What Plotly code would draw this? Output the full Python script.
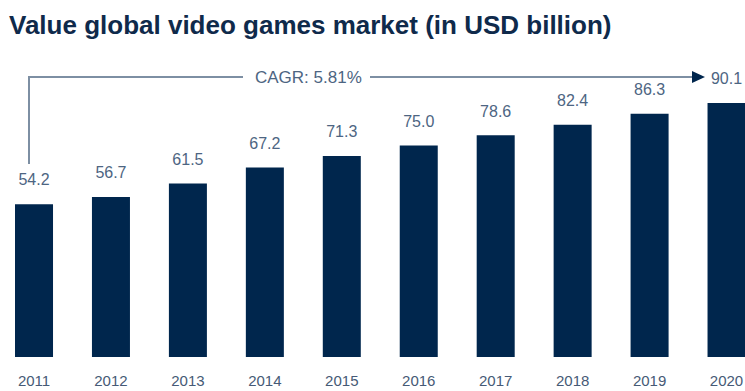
import plotly.graph_objects as go

# Market size per year (USD billion)
years = ["2011", "2012", "2013", "2014", "2015", "2016", "2017", "2018", "2019", "2020"]
values = [54.2, 56.7, 61.5, 67.2, 71.3, 75.0, 78.6, 82.4, 86.3, 90.1]
value_labels = [f"{v:.1f}" for v in values]
title_text = "Value global video games market (in USD billion)"
cagr_text = "CAGR: 5.81%"

W, H = 745, 391
M_BOTTOM = 34
PLOT_H = H - M_BOTTOM

NAVY = "#00264d"
LABEL = "#4d6582"
LINE = "#7d8fa3"
FONT = "Liberation Sans, Arial, sans-serif"


def py(pixel_y):
    """Convert a pixel row (from top of page) into paper y."""
    return (PLOT_H - pixel_y) / PLOT_H


def px(pixel_x):
    return pixel_x / W


fig = go.Figure()
fig.add_trace(
    go.Bar(
        x=years,
        y=values,
        marker=dict(color=NAVY, line=dict(width=0)),
        hoverinfo="skip",
    )
)

# value labels above bars (invisible markers push the text up)
fig.add_trace(
    go.Scatter(
        x=years,
        y=values,
        mode="markers+text",
        text=value_labels,
        textposition="top center",
        marker=dict(size=22, opacity=0),
        textfont=dict(family=FONT, size=16, color=LABEL),
        cliponaxis=False,
        hoverinfo="skip",
    )
)

# title
fig.add_annotation(
    x=px(7), y=py(25), xref="paper", yref="paper",
    xanchor="left", yanchor="middle", showarrow=False,
    text=f"<b>{title_text}</b>",
    font=dict(family=FONT, size=26, color="#0f2a4b"),
)

# CAGR bracket line with arrow
LINE_Y = 77
fig.add_shape(type="line", xref="paper", yref="paper",
              x0=px(29), x1=px(29), y0=py(164), y1=py(LINE_Y),
              line=dict(color=LINE, width=2))
fig.add_shape(type="line", xref="paper", yref="paper",
              x0=px(28), x1=px(243), y0=py(LINE_Y), y1=py(LINE_Y),
              line=dict(color=LINE, width=2))
fig.add_shape(type="line", xref="paper", yref="paper",
              x0=px(370), x1=px(694), y0=py(LINE_Y), y1=py(LINE_Y),
              line=dict(color=LINE, width=2))
fig.add_shape(type="path", xref="paper", yref="paper",
              path=f"M {px(692)} {py(LINE_Y - 6)} L {px(705)} {py(LINE_Y)} L {px(692)} {py(LINE_Y + 6)} Z",
              fillcolor=NAVY, line=dict(width=0))
fig.add_annotation(
    x=px(308), y=py(LINE_Y), xref="paper", yref="paper",
    xanchor="center", yanchor="middle", showarrow=False,
    text=cagr_text,
    font=dict(family=FONT, size=17, color=LABEL),
)

fig.update_layout(
    width=W, height=H,
    margin=dict(l=0, r=0, t=0, b=M_BOTTOM, pad=0),
    plot_bgcolor="white", paper_bgcolor="white",
    bargap=0.506,
    showlegend=False,
    xaxis=dict(
        type="category", range=[-0.442, 9.24],
        showgrid=False, showline=False, zeroline=False, ticks="",
        ticklabelstandoff=13,
        tickfont=dict(family=FONT, size=15, color="#465a76"),
        fixedrange=True,
    ),
    yaxis=dict(
        range=[0, PLOT_H / 2.82],
        showticklabels=False, showline=False, showgrid=False,
        zeroline=False, ticks="", fixedrange=True,
    ),
)

fig.write_html("out.html")
